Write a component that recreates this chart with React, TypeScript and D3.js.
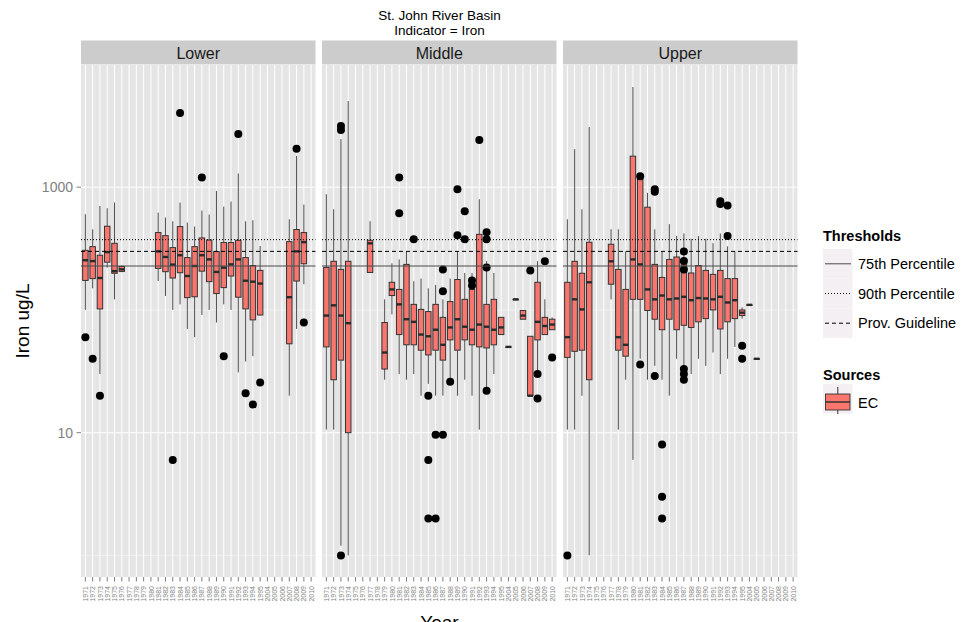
import React from 'react';
import * as d3 from 'd3';

type Stat = [string, number, number, number, number, number]; // year, lower whisker, q1, median, q3, upper whisker
type Out = [string, number];

const years = ['1971','1972','1973','1974','1975','1976','1977','1978','1979','1980','1981','1982','1983','1984','1985','1986','1987','1988','1989','1990','1991','1992','1993','1994','1995','2004','2005','2006','2007','2008','2009','2010'];
const panelNames = ['Lower', 'Middle', 'Upper'];

const lowerStats: Stat[] = [
  ['1971', 100, 174, 254, 306, 602],
  ['1972', 150, 180, 250, 328, 454],
  ['1973', 30, 102, 182, 279, 703],
  ['1974', 221, 245, 296, 481, 674],
  ['1975', 122, 199, 207, 349, 750],
  ['1976', 203, 206, 214, 226, 230],
  ['1981', 172, 218, 300, 427, 621],
  ['1982', 130, 205, 270, 403, 566],
  ['1983', 100, 182, 234, 322, 528],
  ['1984', 111, 201, 279, 478, 750],
  ['1985', 70, 126, 189, 267, 515],
  ['1986', 60, 128, 228, 328, 478],
  ['1987', 91, 207, 279, 386, 645],
  ['1988', 100, 170, 258, 371, 599],
  ['1989', 79, 136, 204, 299, 933],
  ['1990', 111, 152, 221, 354, 695],
  ['1991', 100, 189, 235, 354, 764],
  ['1992', 31, 127, 258, 369, 1294],
  ['1993', 38, 102, 173, 267, 528],
  ['1994', 42, 83, 170, 230, 538],
  ['1995', 90, 91, 164, 210, 332],
  ['2007', 20, 53, 127, 360, 548],
  ['2008', 70, 172, 300, 452, 1800],
  ['2009', 162, 238, 357, 427, 722],
];
const lowerOutliers: Out[] = [
  ['1971', 60], ['1972', 40], ['1973', 20], ['1983', 6], ['1984', 4018], ['1987', 1200],
  ['1990', 42], ['1992', 2710], ['1993', 21], ['1994', 17], ['1995', 25.6], ['2008', 2055], ['2009', 79],
];

const middleStats: Stat[] = [
  ['1971', 10.6, 50, 90, 222, 877],
  ['1972', 10.6, 27, 109, 249, 661],
  ['1973', 1.2, 39, 90, 214, 2466],
  ['1974', 1.0, 10, 78, 249, 5035],
  ['1977', 202, 202, 349, 369, 528],
  ['1979', 27, 33, 45, 79, 122],
  ['1980', 92, 131, 147, 168, 240],
  ['1981', 30, 63, 111, 147, 258],
  ['1982', 27, 52, 84, 235, 300],
  ['1983', 30, 52, 80, 111, 171],
  ['1984', 20, 47, 63, 101, 180],
  ['1985', 25, 43, 61, 97, 150],
  ['1986', 20, 47, 69, 111, 160],
  ['1987', 20, 39, 52, 87, 122],
  ['1988', 27, 57, 72, 117, 180],
  ['1989', 20, 47, 84, 177, 300],
  ['1990', 27, 57, 73, 122, 200],
  ['1991', 20, 52, 69, 147, 200],
  ['1992', 10.6, 50, 76, 413, 798],
  ['1993', 22, 49, 73, 111, 250],
  ['1994', 30, 52, 69, 122, 200],
  ['1995', 63, 63, 72, 87, 87],
  ['2004', 50, 50, 50, 50, 50],
  ['2005', 122, 122, 122, 122, 122],
  ['2006', 84, 84, 90, 99, 99],
  ['2007', 20, 20, 20, 61, 61],
  ['2008', 30, 57, 80, 168, 250],
  ['2009', 63, 63, 74, 87, 122],
  ['2010', 69, 69, 76, 84, 87],
];
const middleOutliers: Out[] = [
  ['1973', 3150], ['1973', 2920], ['1973', 1.0], ['1981', 1200], ['1981', 613], ['1983', 376],
  ['1985', 20], ['1985', 6], ['1985', 2], ['1986', 2], ['1986', 9.6], ['1987', 9.6], ['1987', 214],
  ['1987', 142], ['1988', 26], ['1989', 963], ['1989', 406], ['1990', 637], ['1990', 376],
  ['1991', 174], ['1991', 158], ['1992', 2420], ['1993', 429], ['1993', 376], ['1993', 222],
  ['1993', 22], ['2007', 210], ['2008', 30], ['2008', 19], ['2009', 249], ['2010', 41],
];

const upperStats: Stat[] = [
  ['1971', 10.6, 41, 60, 168, 548],
  ['1972', 10.6, 46, 122, 249, 2042],
  ['1973', 20, 47, 101, 199, 661],
  ['1974', 1.0, 27, 168, 356, 3090],
  ['1977', 122, 162, 249, 343, 454],
  ['1978', 10.6, 47, 60, 214, 454],
  ['1979', 27, 42, 52, 147, 300],
  ['1980', 6, 122, 258, 1790, 6550],
  ['1981', 40, 122, 235, 1162, 1300],
  ['1982', 27, 99, 147, 687, 900],
  ['1983', 35, 84, 122, 235, 454],
  ['1984', 27, 69, 131, 184, 300],
  ['1985', 20, 84, 122, 258, 500],
  ['1986', 40, 69, 124, 270, 400],
  ['1987', 35, 75, 128, 260, 420],
  ['1988', 30, 72, 120, 200, 380],
  ['1989', 40, 80, 125, 230, 400],
  ['1990', 35, 85, 124, 210, 380],
  ['1991', 45, 100, 122, 195, 350],
  ['1992', 30, 70, 128, 210, 420],
  ['1993', 40, 80, 115, 180, 330],
  ['1994', 50, 85, 120, 180, 300],
  ['1995', 85, 90, 95, 100, 105],
  ['2004', 110, 110, 110, 110, 110],
  ['2005', 40, 40, 40, 40, 40],
];
const upperOutliers: Out[] = [
  ['1971', 1.0], ['1981', 1230], ['1981', 36], ['1983', 963], ['1983', 920], ['1983', 29],
  ['1984', 8], ['1984', 3], ['1984', 2], ['1987', 300], ['1987', 250], ['1987', 214],
  ['1987', 33], ['1987', 30], ['1987', 27], ['1992', 770], ['1992', 730], ['1993', 710],
  ['1993', 400], ['1995', 51], ['1995', 40],
];

const statsByPanel = [lowerStats, middleStats, upperStats];
const outliersByPanel = [lowerOutliers, middleOutliers, upperOutliers];

const thresholdNames = ['75th Percentile', '90th Percentile', 'Prov. Guideline'];
const thresholdValues = [228, 374, 300];
const yMajor = [10, 1000];
const yMinor = [1, 100, 10000];

const dashFor: Record<string, string | undefined> = {
  '75th Percentile': undefined,
  '90th Percentile': '1,2',
  'Prov. Guideline': '4,3',
};
const strokeFor: Record<string, string> = {
  '75th Percentile': '#4a4a4a',
  '90th Percentile': '#000',
  'Prov. Guideline': '#000',
};

export default function App() {
  const W = 968, H = 622;
  const pTop = 65, pBot = 577, pW = 234.5, gap = 6.5, pLeft = 81;
  const y = d3.scaleLog().domain([0.667, 9900]).range([pBot, pTop]);
  const boxFill = '#F8766D';
  const ink = '#333333';
  const font = 'Liberation Sans, Arial, Helvetica, sans-serif';

  return (
    <svg width={W} height={H} style={{ position: 'absolute', left: 0, top: 0 }} fontFamily={font}>
      <rect width={W} height={H} fill="#fff" />
      <text x={439.5} y={20} textAnchor="middle" fontSize={13.5}>St. John River Basin</text>
      <text x={439.5} y={34.5} textAnchor="middle" fontSize={13.5}>Indicator = Iron</text>

      {yMajor.map((v) => (
        <g key={'ya' + v}>
          <line x1={76.5} x2={81} y1={y(v)} y2={y(v)} stroke="#7f7f7f" strokeWidth={1} />
          <text x={73} y={y(v) + 5} textAnchor="end" fontSize={14} fill="#7f7f7f">{String(v)}</text>
        </g>
      ))}
      <text transform={`translate(29,${(pTop + pBot) / 2}) rotate(-90)`} textAnchor="middle" fontSize={19}>Iron ug/L</text>
      <text x={439.5} y={629} textAnchor="middle" fontSize={19}>Year</text>

      {panelNames.map((name, pi) => {
        const x0 = pLeft + pi * (pW + gap);
        const x = d3.scalePoint<string>().domain(years).range([x0, x0 + pW]).padding(0.6);
        const bw = x.step() * 0.75;
        const stats = statsByPanel[pi];
        const outs = outliersByPanel[pi];
        return (
          <g key={name}>
            <rect x={x0} y={40.5} width={pW} height={pTop - 40.5} fill="#CCCCCC" />
            <text x={x0 + pW / 2} y={59} textAnchor="middle" fontSize={16} fill="#1a1a1a">{name}</text>
            <rect x={x0} y={pTop} width={pW} height={pBot - pTop} fill="#E5E5E5" />
            {yMinor.map((v) => (
              <line key={'mn' + v} x1={x0} x2={x0 + pW} y1={y(v)} y2={y(v)} stroke="#F2F2F2" strokeWidth={0.8} />
            ))}
            {yMajor.map((v) => (
              <line key={'mj' + v} x1={x0} x2={x0 + pW} y1={y(v)} y2={y(v)} stroke="#fff" strokeWidth={1.1} />
            ))}
            {years.map((yr) => (
              <line key={'vg' + yr} x1={x(yr)} x2={x(yr)} y1={pTop} y2={pBot} stroke="#fff" strokeWidth={1} />
            ))}
            {stats.map(([yr, lo, q1, med, q3, hi]) => {
              const cx = x(yr) as number;
              return (
                <g key={'b' + yr}>
                  <line x1={cx} x2={cx} y1={y(hi)} y2={y(q3)} stroke={ink} strokeWidth={1} opacity={0.85} />
                  <line x1={cx} x2={cx} y1={y(q1)} y2={y(lo)} stroke={ink} strokeWidth={1} opacity={0.85} />
                  <rect x={cx - bw / 2} y={y(q3)} width={bw} height={Math.max(0.5, y(q1) - y(q3))} fill={boxFill} stroke={ink} strokeWidth={1} />
                  <line x1={cx - bw / 2} x2={cx + bw / 2} y1={y(med)} y2={y(med)} stroke="#2a2a2a" strokeWidth={2.4} />
                </g>
              );
            })}
            {outs.map(([yr, v], i) => (
              <circle key={'o' + i} cx={x(yr) as number} cy={y(v)} r={4} fill="#000" />
            ))}
            {thresholdNames.map((t, ti) => (
              <line key={'t' + t} x1={x0} x2={x0 + pW} y1={y(thresholdValues[ti])} y2={y(thresholdValues[ti])}
                stroke={strokeFor[t]} strokeWidth={1} strokeDasharray={dashFor[t]} />
            ))}
            {years.map((yr) => (
              <g key={'xt' + yr}>
                <line x1={x(yr)} x2={x(yr)} y1={pBot} y2={pBot + 4.5} stroke="#7f7f7f" strokeWidth={1} />
                <text transform={`translate(${(x(yr) as number) + 2.6},${pBot + 9}) rotate(-90)`} textAnchor="end" fontSize={7} fill="#7f7f7f">{yr}</text>
              </g>
            ))}
          </g>
        );
      })}

      <text x={823} y={241} fontSize={14.5} fontWeight="bold">Thresholds</text>
      {thresholdNames.map((t, i) => {
        const ky = 249 + i * 29.7;
        return (
          <g key={'lg' + t}>
            <rect x={823} y={ky} width={29.5} height={29.7} fill="#F3EFF2" />
            <line x1={825} x2={851} y1={ky + 14.8} y2={ky + 14.8} stroke={strokeFor[t]} strokeWidth={1} strokeDasharray={dashFor[t]} />
            <text x={858} y={ky + 20} fontSize={14.5}>{t}</text>
          </g>
        );
      })}
      <text x={823} y={380} fontSize={14.5} fontWeight="bold">Sources</text>
      <g>
        <rect x={823} y={384} width={29.5} height={29.7} fill="#F3EFF2" />
        <line x1={837.8} x2={837.8} y1={387} y2={394} stroke={ink} strokeWidth={1} />
        <line x1={837.8} x2={837.8} y1={410} y2={414} stroke={ink} strokeWidth={1} />
        <rect x={825.5} y={394} width={24.5} height={16} fill={boxFill} stroke={ink} strokeWidth={0.9} />
        <line x1={825.5} x2={850} y1={402} y2={402} stroke={ink} strokeWidth={1.5} />
        <text x={858} y={408} fontSize={14.5}>EC</text>
      </g>
    </svg>
  );
}
